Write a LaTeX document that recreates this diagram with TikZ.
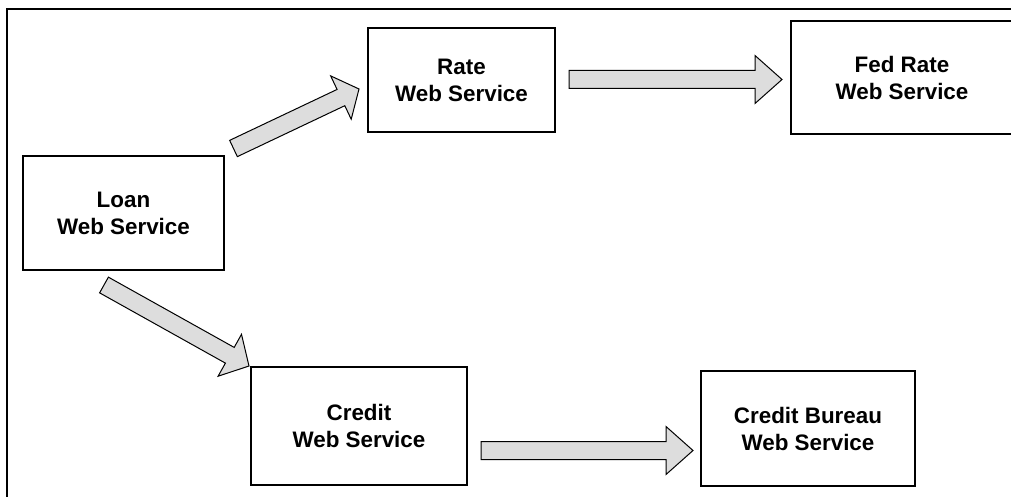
\documentclass[tikz,border=0pt]{standalone}
\usepackage{fontspec}
\setmainfont{Liberation Sans}
\usetikzlibrary{calc}

\definecolor{arrowgray}{RGB}{221,221,221}

\tikzset{
  service/.style={draw=black, line width=1pt, fill=white, align=center,
    font=\bfseries\fontsize{11.2}{13.5}\selectfont, inner sep=0pt},
  fatarrow/.style={draw=black, line width=0.5pt, fill=arrowgray, line join=miter}
}

% block arrow: tail, tip, head length
\newcommand{\blockarrow}[3]{%
  \coordinate (hb) at ($(#2)!#3!(#1)$);
  \draw[fatarrow] ($(#1)!4.5pt!90:(#2)$) -- ($(hb)!4.5pt!90:(#2)$)
    -- ($(hb)!12pt!90:(#2)$) -- (#2) -- ($(hb)!12pt!-90:(#2)$)
    -- ($(hb)!4.5pt!-90:(#2)$) -- ($(#1)!4.5pt!-90:(#2)$) -- cycle;
}

\begin{document}
\begin{tikzpicture}[x=0.5pt, y=-0.5pt]
  \clip (0,0) rectangle (1011,497);
  \draw[line width=1.25pt] (7,9) rectangle (1040,530);

  \node[service, minimum width=100.5pt, minimum height=57pt] (loan) at (123.5,213) {Loan\\Web Service};
  \node[service, minimum width=93.5pt, minimum height=52pt] (rate) at (461.5,80) {Rate\\Web Service};
  \node[service, minimum width=111pt, minimum height=56.5pt] (fedrate) at (902,77.5) {Fed Rate\\Web Service};
  \node[service, minimum width=108pt, minimum height=59pt] (credit) at (359,426) {Credit\\Web Service};
  \node[service, minimum width=107pt, minimum height=57.5pt] (bureau) at (808,428.5) {Credit Bureau\\Web Service};

  % arrow ends
  \coordinate (r1) at (233.5,148.5);
  \coordinate (r2) at (359,89);
  \coordinate (f1) at (569,79.5);
  \coordinate (f2) at (782,79.5);
  \coordinate (c1) at (104,285);
  \coordinate (c2) at (249,366);
  \coordinate (b1) at (481,450.5);
  \coordinate (b2) at (693,450.5);

  \blockarrow{r1}{r2}{10pt}
  \blockarrow{f1}{f2}{13.5pt}
  \blockarrow{c1}{c2}{11pt}
  \blockarrow{b1}{b2}{13.5pt}
\end{tikzpicture}
\end{document}
